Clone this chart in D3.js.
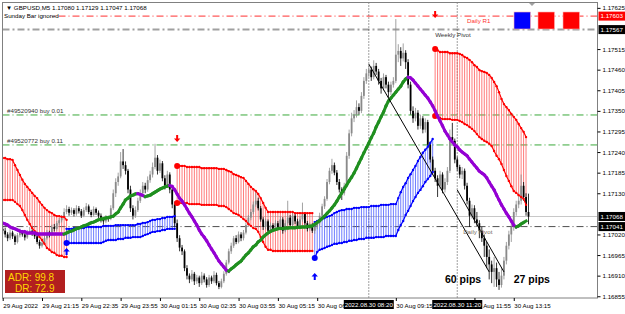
<!DOCTYPE html>
<html>
<head>
<meta charset="utf-8">
<script src="https://cdn.jsdelivr.net/npm/d3@7"></script>
<style>
  body { margin: 0; background: #fff; }
  svg { display: block; font-family: "Liberation Sans", Arial, sans-serif; }
</style>
</head>
<body>
<div id="chart"></div>
<script>
// GBPUSD M5 chart, 29 Aug 2022 19:55 -> 30 Aug 13:45
const W = 625, H = 314;
const t0 = Date.UTC(2022, 7, 29, 19, 55);   // first bar on screen
const BAR_MIN = 5;

// prices are kept in points: 17030 = 1.17030
const candles = [ // [open, high, low, close]
[17035,17048,17022,17030],[17030,17038,17012,17020],[17020,17026,17002,17010],[17010,17034,17005,17025],[17025,17030,17008,17015],
[17015,17020,16992,17000],[17000,17024,16996,17018],[17018,17036,17012,17028],[17028,17032,17014,17020],[17020,17026,17004,17012],
[17012,17032,17008,17025],[17025,17040,17020,17030],[17030,17034,17016,17022],[17022,17028,17008,17015],[17015,17020,16994,17000],
[17000,17006,16982,16990],[16990,17004,16985,16998],[16998,17016,16994,17010],[17010,17032,17006,17025],[17025,17030,17012,17020],
[17020,17046,17016,17040],[17040,17048,17028,17035],[17035,17056,17030,17050],[17050,17064,17044,17058],[17058,17072,17052,17065],
[17065,17090,17060,17080],[17080,17098,17074,17088],[17088,17094,17070,17078],[17078,17092,17072,17085],[17085,17090,17068,17075],
[17075,17098,17070,17090],[17090,17096,17076,17082],[17082,17088,17064,17070],[17070,17092,17066,17085],[17085,17104,17080,17095],
[17095,17100,17074,17080],[17080,17086,17066,17072],[17072,17095,17068,17088],[17088,17092,17072,17078],[17078,17084,17064,17070],
[17070,17076,17052,17060],[17060,17066,17046,17055],[17055,17072,17050,17065],[17065,17070,17054,17062],[17062,17098,17058,17090],
[17090,17140,17085,17130],[17130,17170,17120,17160],[17160,17185,17150,17175],[17175,17240,17170,17215],[17215,17248,17195,17205],
[17205,17215,17180,17190],[17190,17195,17130,17140],[17140,17150,17080,17090],[17090,17098,17060,17070],[17070,17095,17064,17085],
[17085,17118,17080,17110],[17110,17140,17104,17130],[17130,17160,17124,17150],[17150,17158,17130,17140],[17140,17175,17134,17165],
[17165,17190,17158,17180],[17180,17212,17172,17200],[17200,17262,17194,17225],[17225,17232,17180,17190],[17190,17220,17184,17210],
[17210,17216,17162,17170],[17170,17178,17140,17150],[17150,17190,17144,17180],[17180,17186,17130,17140],[17140,17146,17090,17100],
[17100,17108,17040,17050],[17050,17060,17000,17010],[17010,17018,16975,16985],[16985,16992,16965,16975],[16975,16980,16922,16930],
[16930,16938,16900,16910],[16910,16916,16890,16900],[16900,16925,16894,16915],[16915,16920,16885,16895],[16895,16912,16888,16905],
[16905,16910,16880,16890],[16890,16920,16885,16910],[16910,16916,16892,16900],[16900,16906,16878,16885],[16885,16912,16880,16905],
[16905,16910,16888,16895],[16895,16922,16890,16912],[16912,16918,16884,16890],[16890,16896,16874,16880],[16880,16902,16876,16895],
[16895,16922,16890,16915],[16915,16952,16910,16945],[16945,16982,16940,16975],[16975,16998,16968,16990],[16990,17016,16984,17010],
[17010,17018,16994,17000],[17000,17028,16996,17020],[17020,17026,17002,17010],[17010,17032,17004,17025],[17025,17052,17020,17045],
[17045,17072,17040,17065],[17065,17088,17058,17080],[17080,17108,17074,17100],[17100,17135,17094,17110],[17110,17118,17084,17090],
[17090,17096,17054,17060],[17060,17066,17032,17040],[17040,17062,17034,17055],[17055,17060,17024,17030],[17030,17052,17026,17045],
[17045,17050,17028,17035],[17035,17058,17030,17050],[17050,17056,17034,17040],[17040,17068,17036,17060],[17060,17066,17022,17030],
[17030,17058,17026,17050],[17050,17110,17044,17065],[17065,17072,17038,17045],[17045,17078,17040,17070],[17070,17076,17048,17055],
[17055,17062,17034,17040],[17040,17068,17036,17060],[17060,17105,17054,17075],[17075,17080,17044,17050],[17050,17056,17028,17035],
[17035,17052,17030,17045],[17045,17050,17024,17030],[17030,17048,17022,17040],[17040,17058,17034,17050],[17050,17078,17044,17070],
[17070,17102,17064,17095],[17095,17122,17088,17115],[17115,17168,17110,17160],[17160,17198,17154,17190],[17190,17222,17182,17205],
[17205,17212,17178,17185],[17185,17192,17152,17160],[17160,17168,17132,17140],[17140,17146,17112,17130],[17130,17158,17124,17150],
[17150,17240,17144,17230],[17230,17300,17222,17290],[17290,17345,17282,17330],[17330,17352,17320,17340],[17340,17378,17332,17360],
[17360,17370,17340,17350],[17350,17400,17344,17390],[17390,17440,17382,17430],[17430,17462,17422,17450],[17450,17470,17440,17460],
[17460,17468,17430,17440],[17440,17485,17434,17470],[17470,17478,17446,17455],[17455,17462,17420,17430],[17430,17438,17396,17410],
[17410,17450,17404,17440],[17440,17446,17410,17420],[17420,17428,17385,17400],[17400,17428,17392,17420],[17420,17440,17412,17430],
[17430,17595,17424,17500],[17500,17528,17480,17510],[17510,17520,17470,17490],[17490,17530,17482,17505],[17505,17512,17462,17480],
[17480,17488,17410,17420],[17420,17428,17340,17350],[17350,17362,17318,17330],[17330,17358,17322,17345],[17345,17352,17300,17310],
[17310,17340,17302,17330],[17330,17336,17290,17300],[17300,17330,17292,17320],[17320,17326,17250,17260],[17260,17268,17212,17220],
[17220,17228,17180,17190],[17190,17198,17160,17170],[17170,17178,17120,17150],[17150,17190,17142,17180],[17180,17186,17130,17140],
[17140,17170,17132,17160],[17160,17200,17152,17190],[17190,17300,17184,17280],[17280,17318,17262,17270],[17270,17276,17210,17220],
[17220,17228,17190,17200],[17200,17206,17170,17180],[17180,17200,17168,17190],[17190,17196,17140,17150],[17150,17158,17100,17110],
[17110,17118,17040,17070],[17070,17100,17062,17090],[17090,17098,17050,17060],[17060,17080,17040,17050],[17050,17058,17010,17030],
[17030,17040,17000,17010],[17010,17020,16960,16990],[16990,17000,16930,16960],[16960,16980,16900,16940],[16940,16950,16890,16920],
[16920,16960,16880,16930],[16930,16945,16880,16900],[16900,16920,16872,16885],[16885,16930,16878,16910],[16910,16960,16900,16950],
[16950,17000,16940,16990],[16990,17030,16980,17020],[17020,17050,17000,17040],[17040,17090,17030,17080],[17080,17110,17070,17100],
[17100,17130,17090,17110],[17110,17180,17100,17150],[17150,17160,17110,17120],[17120,17130,17070,17080],[17080,17129,17047,17068]
];

// smoothed trend line (green while rising, purple while falling)
const trendMA = [
17051,17048,17045,17040,17037,17035,17032,17029,17027,17027,
17024,17024,17024,17024,17021,17021,17021,17021,17021,17021,
17021,17021,17021,17021,17021,17021,17024,17027,17029,17032,
17035,17037,17040,17043,17045,17048,17051,17053,17056,17059,
17061,17062,17064,17065,17067,17069,17075,17080,17091,17101,
17112,17117,17123,17125,17128,17129,17127,17124,17121,17123,
17125,17129,17133,17137,17141,17144,17147,17149,17151,17148,
17139,17128,17117,17109,17099,17088,17077,17067,17056,17045,
17032,17021,17013,17003,16992,16981,16971,16960,16949,16941,
16933,16925,16922,16928,16933,16939,16944,16949,16957,16965,
16971,16979,16987,16992,17000,17005,17013,17019,17024,17028,
17031,17033,17035,17036,17036,17037,17037,17038,17038,17038,
17039,17039,17040,17040,17041,17042,17043,17047,17052,17057,
17063,17069,17076,17083,17091,17099,17109,17120,17131,17141,
17152,17163,17173,17184,17197,17211,17224,17238,17251,17264,
17278,17291,17307,17320,17334,17347,17363,17376,17384,17392,
17400,17408,17416,17427,17435,17440,17438,17432,17424,17416,
17408,17400,17392,17384,17374,17363,17350,17336,17323,17310,
17296,17286,17275,17267,17259,17254,17246,17240,17235,17230,
17221,17213,17205,17197,17189,17184,17179,17171,17160,17149,
17139,17125,17112,17099,17088,17077,17067,17056,17045,17040,
17043,17048,17052,17056
];

// channel segments: resistance (red) / support (blue), one value per bar from `start`
const bandKinds  = ["resist", "support", "resist", "support", "resist"];
const bandStarts = [0, 26, 71, 127, 176];
const bandUpper = [
  [17224,17224,17221,17221,17219,17205,17192,17179,17166,17155,17147,17139,17131,17123,17117,17107,17099,17091,17085,17080,17077,17072,17069,17069,17067,17067,17059],
  [17035,17035,17035,17037,17037,17037,17037,17037,17040,17040,17040,17040,17040,17040,17040,17043,17043,17043,17043,17043,17045,17045,17045,17045,17045,17045,17045,17045,17045,17048,17048,17051,17051,17053,17056,17059,17059,17061,17061,17064,17064,17067,17067,17067,17069],
  [17203,17203,17203,17203,17200,17200,17200,17200,17200,17200,17197,17197,17197,17197,17197,17197,17197,17195,17195,17195,17192,17189,17187,17181,17179,17176,17173,17171,17163,17155,17147,17141,17136,17128,17117,17104,17091,17080,17080,17080,17080,17080,17080,17080,17080,17080,17080,17080,17077,17077,17077,17077,17077,17077,17077,17077],
  [17053,17056,17059,17061,17064,17067,17069,17072,17077,17080,17083,17085,17085,17088,17088,17088,17091,17091,17091,17093,17093,17093,17093,17096,17096,17096,17096,17099,17099,17099,17099,17101,17101,17101,17117,17133,17147,17157,17171,17181,17192,17203,17216,17227,17238,17246,17254,17264,17275],
  [17515,17512,17507,17507,17507,17507,17504,17504,17504,17504,17502,17499,17494,17491,17486,17480,17472,17467,17459,17456,17454,17451,17446,17438,17427,17416,17400,17382,17368,17360,17352,17342,17334,17326,17315,17304,17294,17280]
];
const bandLower = [
  [17112,17112,17112,17112,17112,17107,17101,17096,17085,17072,17059,17048,17037,17029,17024,17013,17005,16995,16984,16979,16973,16971,16965,16963,16963,16960,16960],
  [16997,16997,16997,16997,16997,16997,16997,16997,16997,16997,16997,16997,16997,16997,16997,17000,17003,17005,17005,17005,17005,17008,17008,17008,17011,17011,17011,17013,17013,17013,17013,17016,17019,17021,17024,17027,17027,17029,17029,17032,17032,17035,17035,17035,17035],
  [17104,17104,17104,17104,17104,17101,17101,17101,17101,17101,17099,17099,17099,17099,17099,17099,17099,17096,17096,17096,17093,17088,17083,17077,17075,17072,17067,17061,17056,17048,17043,17037,17035,17027,17013,17000,16987,16979,16979,16976,16976,16976,16976,16976,16976,16976,16976,16976,16976,16976,16976,16976,16976,16976,16976,16976],
  [16957,16973,16979,16981,16984,16987,16989,16992,16995,16995,16997,16997,17000,17000,17003,17003,17005,17005,17008,17008,17008,17011,17011,17011,17011,17013,17013,17013,17013,17016,17016,17016,17016,17016,17032,17045,17056,17072,17083,17096,17109,17120,17131,17139,17149,17160,17168,17176,17187],
  [17336,17334,17331,17328,17328,17328,17328,17326,17326,17326,17323,17320,17315,17312,17307,17302,17296,17288,17280,17275,17270,17267,17262,17256,17243,17230,17221,17208,17192,17176,17163,17149,17136,17131,17125,17120,17115,17099]
];

// signal arrows: bar index, direction, price of the arrow tip
const signalBars   = [26, 71, 127, 176];
const signalDirs   = ["buy", "sell", "buy", "sell"];
const signalPrices = [16984, 17267, 16917, 17598];

// horizontal levels
const levelPrices = [1.17603, 1.17567, 1.17339, 1.17259, 1.17041];
const levelKinds  = ["r1", "weekly", "order", "order", "pivot"];
const orderLabels = ["#49520940 buy 0.01", "#49520772 buy 0.11"];
const bidPrice = 1.17068;

// vertical markers and measuring lines
const vMarkers = ["2022-08-30T08:20:00Z", "2022-08-30T11:20:00Z"];
const vMarkerLabels = ["2022.08.30 08:20", "2022.08.30 11:20"];
const measureLines = [
  [["2022-08-30T08:20:00Z", 1.17475], ["2022-08-30T12:25:00Z", 1.16920]],
  [["2022-08-30T11:20:00Z", 1.17139], ["2022-08-30T12:55:00Z", 1.16920]]
];
const measureTexts = ["60 pips", "27 pips"];
const measureTextAt = [["2022-08-30T10:55:00Z", 1.16890], ["2022-08-30T13:15:00Z", 1.16890]];

// axes (labels hidden under the price / time boxes are left out)
const priceTicks = [1.17625,1.17515,1.17460,1.17405,1.17350,1.17295,1.17240,1.17185,1.17130,1.17020,1.16965,1.16910,1.16855];
const priceBoxes = [1.17603, 1.17567, 1.17068, 1.17041];
const timeTicks = ["2022-08-29T19:55","2022-08-29T21:15","2022-08-29T22:35","2022-08-29T23:55","2022-08-30T01:15","2022-08-30T02:35",
  "2022-08-30T03:55","2022-08-30T05:15","2022-08-30T06:35","2022-08-30T09:15","2022-08-30T11:55","2022-08-30T13:15"];
const timeLabels = ["29 Aug 2022","29 Aug 21:15","29 Aug 22:35","29 Aug 23:55","30 Aug 01:15","30 Aug 02:35","30 Aug 03:55",
  "30 Aug 05:15","30 Aug 06:35","30 Aug 09:15","30 Aug 11:55","30 Aug 13:15"];

const adr = 99.8, dr = 72.9;

// ---------- scales ----------
const plot = { left: 2.5, right: 597.5, top: 2.5, bottom: 298 };
const x = d3.scaleUtc()
  .domain([new Date(t0), new Date(t0 + 1210 * 60000)])
  .range([2.7, 597.3]);
const y = d3.scaleLinear().domain([1.16853, 1.17646]).range([297, 0]);
const pr = v => 1 + v / 100000;
const barX = i => x(new Date(t0 + i * BAR_MIN * 60000));
const utc = s => new Date(s.endsWith("Z") ? s : s + "Z");

const colors = {
  red: "#ff0000", redHatch: "#ff5a5a", blue: "#0000ff", blueHatch: "#4a5cff",
  green: "#1f8f1f", purple: "#9400d3", orderGreen: "#3aa83a"
};

const svg = d3.select("#chart").append("svg").attr("width", W).attr("height", H);
svg.append("rect").attr("width", W).attr("height", H).attr("fill", "#fff");

svg.append("clipPath").attr("id", "plotClip").append("rect")
  .attr("x", plot.left).attr("y", plot.top)
  .attr("width", plot.right - plot.left).attr("height", plot.bottom - plot.top);
const g = svg.append("g").attr("clip-path", "url(#plotClip)");

// ---------- horizontal levels ----------
const levelStyle = {
  r1:     { stroke: "#ff3030", width: 1, dash: "7,3,1,3" },
  weekly: { stroke: "#a0a0a0", width: 2, dash: "7,3,2,3" },
  order:  { stroke: colors.orderGreen, width: 1, dash: "7,3,1,3" },
  pivot:  { stroke: "#505050", width: 1, dash: "7,3,1,3" }
};
levelPrices.forEach((p, i) => {
  const s = levelStyle[levelKinds[i]];
  g.append("line")
    .attr("x1", plot.left).attr("x2", plot.right)
    .attr("y1", y(p)).attr("y2", y(p))
    .attr("stroke", s.stroke).attr("stroke-width", s.width)
    .attr("stroke-dasharray", s.dash);
});
// bid line
g.append("line").attr("x1", plot.left).attr("x2", plot.right)
  .attr("y1", Math.round(y(bidPrice)) + 0.5).attr("y2", Math.round(y(bidPrice)) + 0.5)
  .attr("stroke", "#c8c8c8");

// vertical markers
vMarkers.forEach(t => {
  g.append("line").attr("x1", x(utc(t))).attr("x2", x(utc(t)))
    .attr("y1", plot.top).attr("y2", plot.bottom)
    .attr("stroke", "#404040").attr("stroke-dasharray", "1,2");
});

// ---------- channel hatching ----------
bandKinds.forEach((kind, b) => {
  const up = bandUpper[b], lo = bandLower[b], st = bandStarts[b];
  g.selectAll(null).data(up).enter().append("line")
    .attr("x1", (d, i) => barX(st + i)).attr("x2", (d, i) => barX(st + i))
    .attr("y1", d => y(pr(d))).attr("y2", (d, i) => y(pr(lo[i])))
    .attr("stroke", kind === "resist" ? colors.redHatch : colors.blueHatch)
    .attr("stroke-width", 0.8);
});

// ---------- candles ----------
const cg = g.append("g");
candles.forEach((c, i) => {
  const [o, h, l, cl] = c;
  const cx = barX(i);
  const col = cl >= o ? "#8a8a8a" : "#000";
  cg.append("line").attr("x1", cx).attr("x2", cx)
    .attr("y1", y(pr(h))).attr("y2", y(pr(l)))
    .attr("stroke", col).attr("stroke-width", 0.8);
  const top = y(pr(Math.max(o, cl))), bot = y(pr(Math.min(o, cl)));
  cg.append("rect").attr("x", cx - 0.9).attr("width", 1.8)
    .attr("y", top).attr("height", Math.max(0.8, bot - top))
    .attr("fill", col);
});

// ---------- channel edges ----------
bandKinds.forEach((kind, b) => {
  const col = kind === "resist" ? colors.red : colors.blue;
  const st = bandStarts[b];
  [bandUpper[b], bandLower[b]].forEach((arr, k) => {
    const line = d3.line().x((d, i) => barX(st + i)).y(d => y(pr(d)));
    g.append("path").attr("d", line(arr)).attr("fill", "none")
      .attr("stroke", col).attr("stroke-width", 1.2);
    g.selectAll(null).data(arr).enter().append("circle")
      .attr("cx", (d, i) => barX(st + i)).attr("cy", d => y(pr(d)))
      .attr("r", 1.2).attr("fill", col);
    // big dot where a new channel begins
    if (st > 0 && (kind === "resist" || k === 1)) {
      g.append("circle").attr("cx", barX(st)).attr("cy", y(pr(arr[0])))
        .attr("r", 3).attr("fill", col);
    }
  });
});

// ---------- trend MA ----------
let prevCol = colors.purple;
for (let i = 0; i < trendMA.length - 1; i++) {
  const a = trendMA[i], b = trendMA[i + 1];
  const col = b > a ? colors.green : b < a ? colors.purple : prevCol;
  prevCol = col;
  g.append("line")
    .attr("x1", barX(i)).attr("x2", barX(i + 1))
    .attr("y1", y(pr(a))).attr("y2", y(pr(b)))
    .attr("stroke", col).attr("stroke-width", 3).attr("stroke-linecap", "square");
}

// ---------- measuring lines ----------
measureLines.forEach(([p1, p2]) => {
  g.append("line")
    .attr("x1", x(utc(p1[0]))).attr("y1", y(p1[1]))
    .attr("x2", x(utc(p2[0]))).attr("y2", y(p2[1]))
    .attr("stroke", "#000").attr("stroke-width", 1);
});
measureTexts.forEach((t, i) => {
  g.append("text").attr("x", x(utc(measureTextAt[i][0]))).attr("y", y(measureTextAt[i][1]))
    .attr("font-size", 10.5).attr("font-weight", "bold").attr("fill", "#000").text(t);
});

// ---------- signal arrows ----------
signalBars.forEach((bar, i) => {
  const cx = barX(bar), tip = y(pr(signalPrices[i]));
  const s = signalDirs[i] === "buy" ? -1 : 1; // buy points up
  const col = signalDirs[i] === "buy" ? colors.blue : colors.red;
  const path = d3.path();
  path.moveTo(cx, tip);
  path.lineTo(cx - 3.2, tip - s * 3.5);
  path.lineTo(cx - 1, tip - s * 3.5);
  path.lineTo(cx - 1, tip - s * 7);
  path.lineTo(cx + 1, tip - s * 7);
  path.lineTo(cx + 1, tip - s * 3.5);
  path.lineTo(cx + 3.2, tip - s * 3.5);
  path.closePath();
  g.append("path").attr("d", path.toString()).attr("fill", col);
});

// ---------- labels inside the chart ----------
const smallFont = 6.2;
g.append("rect").attr("x", 3).attr("y", 10).attr("width", 50).attr("height", 8).attr("fill", "#fff");
g.append("text").attr("x", 6).attr("y", 9.5).attr("font-size", smallFont).attr("fill", "#000")
  .text("▼ GBPUSD,M5  1.17080 1.17129 1.17047 1.17068");
g.append("text").attr("x", 4).attr("y", 17.5).attr("font-size", smallFont).attr("fill", "#000")
  .text("Sunday Bar ignored");

g.append("text").attr("x", x(utc("2022-08-30T11:40:00Z"))).attr("y", y(levelPrices[0]) + 6.5)
  .attr("font-size", smallFont).attr("fill", "#ff3030").text("Daily R1");
g.append("text").attr("x", x(utc("2022-08-30T10:35:00Z"))).attr("y", y(levelPrices[1]) + 7)
  .attr("font-size", smallFont).attr("fill", "#333").text("Weekly Pivot");
g.append("text").attr("x", x(utc("2022-08-30T11:32:00Z"))).attr("y", y(levelPrices[4]) + 7.5)
  .attr("font-size", smallFont).attr("fill", "#7a6a5a").text("Daily Pivot");
orderLabels.forEach((t, i) => {
  g.append("text").attr("x", 7).attr("y", y(levelPrices[2 + i]) - 2)
    .attr("font-size", smallFont).attr("fill", "#333").text(t);
});

// colour squares, top right
[["#0000ff", 514], ["#ff0000", 538], ["#ff0000", 563]].forEach(([c, sx]) => {
  svg.append("rect").attr("x", sx).attr("y", 12).attr("width", 16.5).attr("height", 17)
    .attr("fill", c).attr("stroke", "#ffb0b0").attr("stroke-width", 0.6);
});
svg.append("path").attr("d", "M529,3 L535,3 L532,6 Z").attr("fill", "#a0a0a0");

// ADR box
svg.append("rect").attr("x", 5).attr("y", 270).attr("width", 60).attr("height", 23).attr("fill", "#b21f1f");
svg.append("text").attr("x", 8).attr("y", 281).attr("font-size", 10).attr("fill", "#ffd700").text("ADR: " + adr);
svg.append("text").attr("x", 15).attr("y", 292).attr("font-size", 10).attr("fill", "#ffd700").text("DR: " + dr);

// ---------- frame and axes ----------
svg.append("rect").attr("x", plot.left).attr("y", plot.top)
  .attr("width", plot.right - plot.left).attr("height", plot.bottom - plot.top)
  .attr("fill", "none").attr("stroke", "#808080");

const yAxis = svg.append("g").attr("transform", `translate(${plot.right},0)`)
  .call(d3.axisRight(y).tickValues(priceTicks).tickSize(3).tickPadding(2).tickFormat(d3.format(".5f")));
yAxis.select(".domain").remove();
yAxis.selectAll("text").attr("font-size", smallFont).attr("font-family", "Liberation Sans, Arial, sans-serif");

const xAxis = svg.append("g").attr("transform", `translate(0,${plot.bottom})`)
  .call(d3.axisBottom(x).tickValues(timeTicks.map(utc)).tickSize(3).tickPadding(3)
    .tickFormat((d, i) => timeLabels[i]));
xAxis.select(".domain").remove();
xAxis.selectAll("text").attr("font-size", smallFont).attr("text-anchor", "start")
  .attr("font-family", "Liberation Sans, Arial, sans-serif");

// price boxes
priceBoxes.forEach((p, i) => {
  const bg = i === 0 ? "#ff0000" : "#000";
  const yy = y(p);
  svg.append("rect").attr("x", plot.right + 1).attr("y", yy - 4.5).attr("width", 27).attr("height", 9).attr("fill", bg);
  svg.append("text").attr("x", plot.right + 3).attr("y", yy + 2.2)
    .attr("font-size", smallFont).attr("fill", "#fff").text(d3.format(".5f")(p));
});

// time boxes
vMarkers.forEach((t, i) => {
  const cx = x(utc(t));
  svg.append("rect").attr("x", cx - 25).attr("y", plot.bottom + 2).attr("width", 50).attr("height", 9).attr("fill", "#000");
  svg.append("text").attr("x", cx).attr("y", plot.bottom + 8.8).attr("text-anchor", "middle")
    .attr("font-size", smallFont).attr("fill", "#fff").text(vMarkerLabels[i]);
});
</script>
</body>
</html>
